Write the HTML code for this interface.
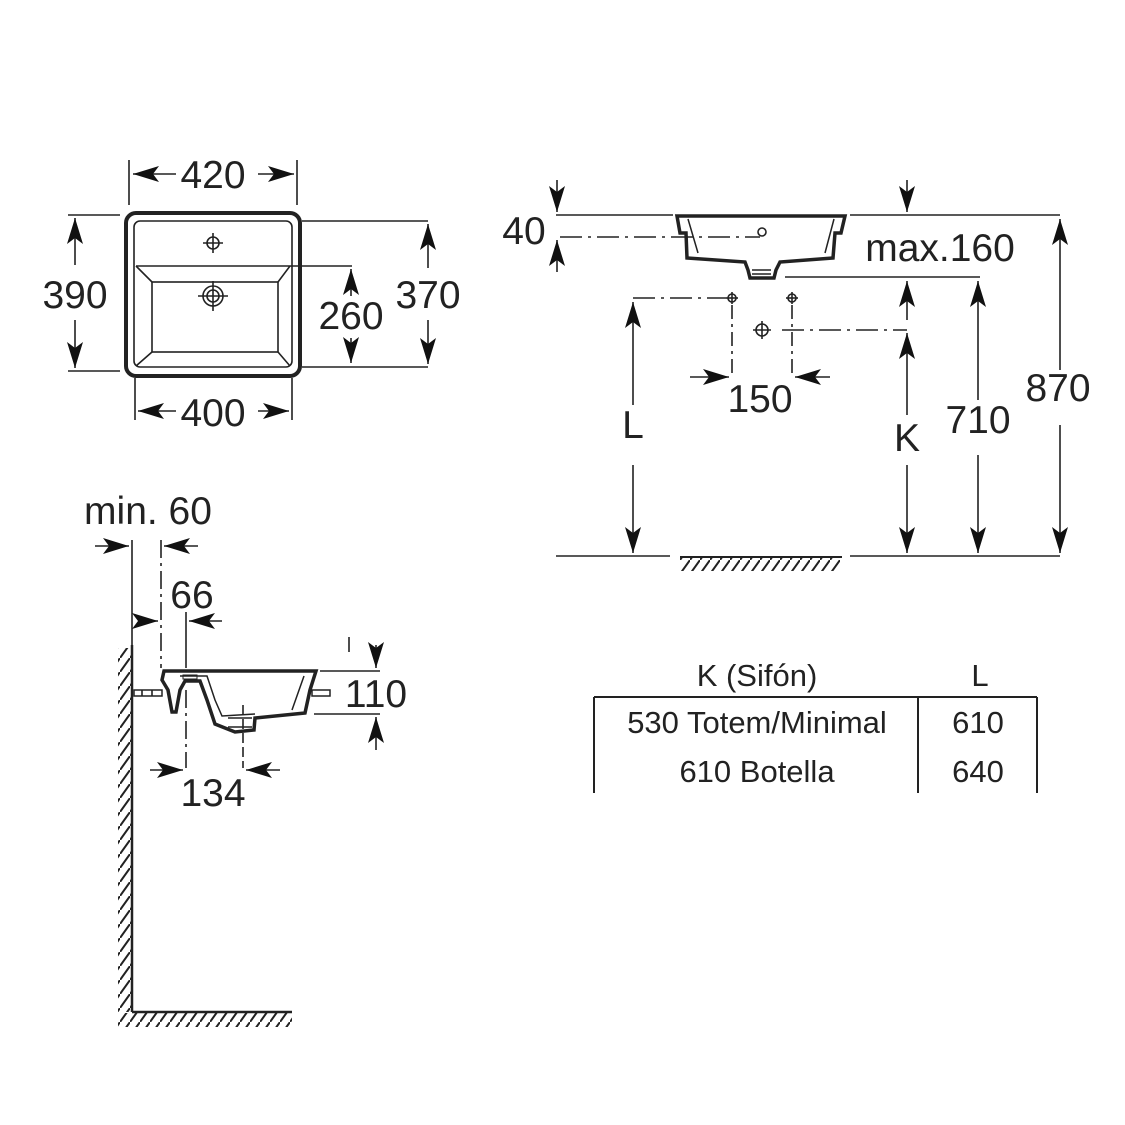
<!DOCTYPE html>
<html><head><meta charset="utf-8"><style>
html,body{margin:0;padding:0;background:#fff}
svg{display:block}
text{font-family:"Liberation Sans",sans-serif;fill:#222}
</style></head><body>
<svg width="1125" height="1125" viewBox="0 0 1125 1125" xmlns="http://www.w3.org/2000/svg">
<defs>
<marker id="a" viewBox="0 0 10 10" refX="10" refY="5" markerWidth="10" markerHeight="10" markerUnits="userSpaceOnUse" orient="auto-start-reverse" overflow="visible">
<path d="M-16,-3 L10,5 L-16,13 L-10,5 Z" fill="#111"/>
</marker>
<pattern id="h" width="10" height="14" patternUnits="userSpaceOnUse">
<line x1="0" y1="14" x2="10" y2="0" stroke="#222" stroke-width="2"/>
</pattern>
</defs>
<g stroke="#222" fill="none" stroke-width="1.6">
<rect x="126" y="213" width="174" height="163" rx="10" stroke-width="4"/>
<rect x="134" y="221" width="158" height="146" rx="6"/>
<line x1="136" y1="266" x2="290" y2="266"/>
<rect x="152" y="282" width="126" height="70"/>
<line x1="136" y1="266" x2="152" y2="282"/><line x1="290" y1="266" x2="278" y2="282"/>
<line x1="136" y1="366" x2="152" y2="352"/><line x1="290" y1="366" x2="278" y2="352"/>
<circle cx="213" cy="243" r="6"/><line x1="203" y1="243" x2="223" y2="243"/><line x1="213" y1="233" x2="213" y2="253"/>
<circle cx="213" cy="296" r="10"/><circle cx="213" cy="296" r="6"/><line x1="198" y1="296" x2="228" y2="296"/><line x1="213" y1="281" x2="213" y2="311"/>
<line x1="129" y1="160" x2="129" y2="205"/><line x1="297" y1="160" x2="297" y2="205"/>
<line x1="176" y1="174" x2="133" y2="174" marker-end="url(#a)"/><line x1="258" y1="174" x2="294" y2="174" marker-end="url(#a)"/>
<line x1="68" y1="215" x2="120" y2="215"/><line x1="68" y1="371" x2="120" y2="371"/>
<line x1="75" y1="265" x2="75" y2="218" marker-end="url(#a)"/><line x1="75" y1="320" x2="75" y2="368" marker-end="url(#a)"/>
<line x1="302" y1="221" x2="428" y2="221"/><line x1="302" y1="367" x2="428" y2="367"/>
<line x1="428" y1="268" x2="428" y2="224" marker-end="url(#a)"/><line x1="428" y1="320" x2="428" y2="364" marker-end="url(#a)"/>
<line x1="290" y1="266" x2="352" y2="266"/>
<line x1="351" y1="296" x2="351" y2="269" marker-end="url(#a)"/><line x1="351" y1="338" x2="351" y2="363" marker-end="url(#a)"/>
<line x1="135" y1="378" x2="135" y2="420"/><line x1="292" y1="378" x2="292" y2="420"/>
<line x1="176" y1="411" x2="138" y2="411" marker-end="url(#a)"/><line x1="258" y1="411" x2="289" y2="411" marker-end="url(#a)"/>

<line x1="556" y1="215" x2="673" y2="215"/><line x1="850" y1="215" x2="1060" y2="215"/>
<path d="M677,216 L845,216 L841,233 L835,233 L833,258 Q805,260 780,262 L776,270 L774,278 L750,278 L748,270 L745,262 Q715,260 687,258 L686,233 L680,233 Z" stroke-width="3.5"/>
<path d="M688,219 L698,253 M834,219 L825,253 M752,270 L771,270 M752,274 L771,274" stroke-width="1.5"/>
<line x1="557" y1="180" x2="557" y2="212" marker-end="url(#a)"/>
<line x1="557" y1="272" x2="557" y2="240" marker-end="url(#a)"/>
<line x1="560" y1="237" x2="760" y2="237" stroke-dasharray="22,6,3,6"/>
<circle cx="762" cy="232" r="4"/>
<line x1="907" y1="180" x2="907" y2="212" marker-end="url(#a)"/>
<line x1="785" y1="277" x2="980" y2="277"/>
<line x1="633" y1="298" x2="726" y2="298" stroke-dasharray="22,6,3,6"/>
<circle cx="732" cy="298" r="4"/><line x1="726" y1="298" x2="738" y2="298"/><line x1="732" y1="292" x2="732" y2="304"/>
<circle cx="792" cy="298" r="4"/><line x1="786" y1="298" x2="798" y2="298"/><line x1="792" y1="292" x2="792" y2="304"/>
<circle cx="762" cy="330" r="6"/><line x1="753" y1="330" x2="771" y2="330"/><line x1="762" y1="321" x2="762" y2="339"/>
<line x1="782" y1="330" x2="907" y2="330" stroke-dasharray="22,6,3,6"/>
<line x1="732" y1="305" x2="732" y2="378" stroke-dasharray="14,5,3,5"/>
<line x1="792" y1="305" x2="792" y2="378" stroke-dasharray="14,5,3,5"/>
<line x1="690" y1="377" x2="729" y2="377" marker-end="url(#a)"/><line x1="830" y1="377" x2="795" y2="377" marker-end="url(#a)"/>
<line x1="633" y1="405" x2="633" y2="302" marker-end="url(#a)"/><line x1="633" y1="465" x2="633" y2="553" marker-end="url(#a)"/>
<line x1="907" y1="320" x2="907" y2="281" marker-end="url(#a)"/>
<line x1="907" y1="415" x2="907" y2="333" marker-end="url(#a)"/><line x1="907" y1="465" x2="907" y2="553" marker-end="url(#a)"/>
<line x1="978" y1="400" x2="978" y2="281" marker-end="url(#a)"/><line x1="978" y1="455" x2="978" y2="553" marker-end="url(#a)"/>
<line x1="1060" y1="370" x2="1060" y2="219" marker-end="url(#a)"/><line x1="1060" y1="425" x2="1060" y2="553" marker-end="url(#a)"/>
<line x1="556" y1="556" x2="670" y2="556"/><line x1="850" y1="556" x2="1060" y2="556"/>
<line x1="680" y1="557" x2="842" y2="557" stroke-width="2"/>
<rect x="680" y="558" width="160" height="13" fill="url(#h)" stroke="none"/>

<line x1="594" y1="697" x2="1037" y2="697" stroke-width="2"/>
<line x1="594" y1="697" x2="594" y2="793" stroke-width="2"/>
<line x1="918" y1="697" x2="918" y2="793" stroke-width="2"/>
<line x1="1037" y1="697" x2="1037" y2="793" stroke-width="2"/>

<line x1="132" y1="645" x2="132" y2="1012" stroke-width="2.5"/>
<rect x="118" y="648" width="14" height="364" fill="url(#h)" stroke="none"/>
<line x1="132" y1="1012" x2="292" y2="1012" stroke-width="2.5"/>
<rect x="118" y="1013" width="174" height="14" fill="url(#h)" stroke="none"/>
<line x1="95" y1="546" x2="129" y2="546" marker-end="url(#a)"/><line x1="198" y1="546" x2="164" y2="546" marker-end="url(#a)"/>
<line x1="132" y1="540" x2="132" y2="645"/>
<line x1="161" y1="540" x2="161" y2="668" stroke-dasharray="18,5,3,5"/>
<line x1="186" y1="612" x2="186" y2="668"/>
<line x1="140" y1="621" x2="158" y2="621" marker-end="url(#a)"/><line x1="222" y1="621" x2="189" y2="621" marker-end="url(#a)"/>
<rect x="134" y="690" width="28" height="6" stroke-width="1.5"/>
<line x1="142" y1="690" x2="142" y2="696"/><line x1="152" y1="690" x2="152" y2="696"/>
<rect x="312" y="690" width="18" height="6" stroke-width="1.5"/>
<path d="M164,671 L316,671 L310,690 L305,713 L255,718 L254,730 L235,732 L215,724 L207,700 L200,681 L185,681 L180,690 L176,712 L172,712 L168,690 L162,680 Z" stroke-width="3.5"/>
<path d="M180,676 L207,676 L215,700 L222,716 L255,714 M304,676 L292,710 M228,718 L252,718 M228,727 L252,727" stroke-width="1.5"/>
<rect x="183" y="675" width="14" height="4" stroke-width="1"/>
<line x1="186" y1="690" x2="186" y2="768" stroke-dasharray="18,5,3,5"/>
<line x1="243" y1="705" x2="243" y2="768" stroke-dasharray="10,4"/>
<line x1="150" y1="770" x2="183" y2="770" marker-end="url(#a)"/><line x1="280" y1="770" x2="246" y2="770" marker-end="url(#a)"/>
<line x1="349" y1="637" x2="349" y2="652"/>
<line x1="320" y1="671" x2="380" y2="671"/><line x1="314" y1="714" x2="380" y2="714"/>
<line x1="376" y1="645" x2="376" y2="668" marker-end="url(#a)"/>
<line x1="376" y1="750" x2="376" y2="717" marker-end="url(#a)"/>
</g>
<g font-size="39" text-anchor="middle">
<text x="213" y="188">420</text>
<text x="75" y="308">390</text>
<text x="428" y="308">370</text>
<text x="351" y="329">260</text>
<text x="213" y="426">400</text>
<text x="524" y="244">40</text>
<text x="940" y="261">max.160</text>
<text x="760" y="412">150</text>
<text x="633" y="438">L</text>
<text x="907" y="451">K</text>
<text x="978" y="433">710</text>
<text x="1058" y="401">870</text>
<text x="148" y="524">min. 60</text>
<text x="192" y="608">66</text>
<text x="376" y="707">110</text>
<text x="213" y="806">134</text>
</g>
<g font-size="31" text-anchor="middle">
<text x="757" y="686">K (Sifón)</text>
<text x="980" y="686">L</text>
<text x="757" y="733">530 Totem/Minimal</text>
<text x="978" y="733">610</text>
<text x="757" y="782">610 Botella</text>
<text x="978" y="782">640</text>
</g>
</svg>
</body></html>
